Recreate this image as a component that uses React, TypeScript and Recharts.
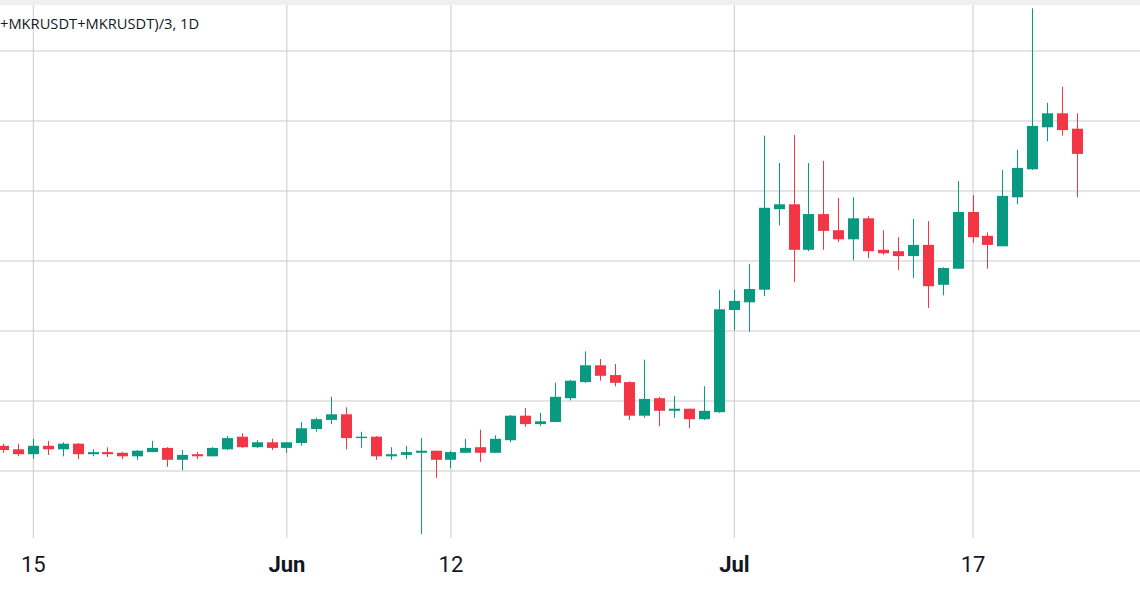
import React from 'react';
import { ComposedChart, Bar, XAxis, YAxis, CartesianGrid } from 'recharts';

// daily candles, 13 May -> 24 Jul (index 0 = 13 May)
const opens = [
  636, 631, 624, 636, 631, 639, 624, 627, 626, 621,
  627, 633, 616, 624, 621, 631, 649, 634, 641, 633,
  640, 660, 673, 681, 647, 649, 621, 623, 626, 629,
  616, 626, 634, 626, 644, 679, 667, 670, 704, 727,
  751, 737, 727, 679, 704, 686, 689, 674, 684, 830,
  841, 859, 974, 981, 916, 967, 944, 931, 961, 916,
  914, 907, 923, 866, 889, 970, 936, 921, 991, 1031,
  1091, 1111, 1089,
];
const highs = [
  639, 639, 646, 643, 641, 640, 631, 634, 627, 630,
  643, 634, 630, 627, 634, 650, 654, 644, 646, 641,
  670, 676, 706, 691, 656, 650, 634, 636, 647, 629,
  629, 646, 659, 651, 680, 690, 683, 726, 730, 771,
  760, 753, 728, 759, 706, 707, 689, 721, 859, 859,
  896, 1079, 1040, 1080, 1040, 1043, 990, 991, 964, 944,
  934, 960, 957, 891, 1014, 994, 941, 1030, 1059, 1261,
  1126, 1149, 1111,
];
const lows = [
  626, 621, 617, 623, 621, 617, 621, 620, 617, 616,
  627, 606, 601, 617, 621, 630, 633, 633, 630, 626,
  636, 656, 667, 631, 633, 616, 616, 617, 510, 590,
  604, 626, 613, 626, 641, 663, 664, 670, 701, 726,
  729, 721, 673, 676, 664, 676, 661, 673, 683, 801,
  799, 850, 951, 870, 914, 916, 927, 901, 904, 909,
  887, 876, 833, 851, 889, 926, 889, 921, 981, 1030,
  1071, 1079, 991,
];
const closes = [
  630, 624, 636, 631, 639, 624, 627, 624, 621, 629,
  633, 616, 623, 621, 633, 647, 634, 641, 633, 641,
  661, 674, 681, 647, 649, 621, 624, 627, 629, 616,
  627, 633, 626, 646, 679, 667, 671, 706, 729, 751,
  736, 726, 679, 703, 686, 689, 674, 686, 831, 843,
  860, 976, 981, 916, 967, 943, 931, 961, 914, 911,
  907, 923, 864, 890, 970, 934, 923, 993, 1033, 1093,
  1111, 1087, 1053,
];

const tickDays = [2, 19, 30, 49, 65];
const tickLabels = ['15', 'Jun', '12', 'Jul', '17'];
const priceTicks = [600, 700, 800, 900, 1000, 1100, 1200];

const X_DOMAIN: [number, number] = [-0.2326, 76.195];
const Y_DOMAIN: [number, number] = [504.29, 1265.71];

const GREEN = '#089981';
const RED = '#F23645';

const data = opens.map((o, i) => ({
  day: i,
  open: o,
  high: highs[i],
  low: lows[i],
  close: closes[i],
  range: [lows[i], highs[i]],
}));

const Candle = (props: any) => {
  const { x, y, width, height, payload } = props;
  if (!payload || height == null) return null;
  const { open, close, high, low } = payload;
  const color = close >= open ? GREEN : RED;
  const top = Math.min(y, y + height);
  const h = Math.abs(height);
  const k = h / (high - low);
  const bodyTop = top + (high - Math.max(open, close)) * k;
  const bodyH = Math.max(1, Math.abs(open - close) * k);
  const cx = Math.floor(x + width / 2) + 0.5;
  return (
    <g>
      <line x1={cx} x2={cx} y1={top} y2={top + h} stroke={color} strokeWidth={1} />
      <rect x={Math.round(x)} y={bodyTop} width={width} height={bodyH} fill={color} />
    </g>
  );
};

const DateTick = (props: any) => {
  const { x, y, payload } = props;
  const label = tickLabels[tickDays.indexOf(payload.value)];
  const bold = label === 'Jun' || label === 'Jul';
  return (
    <text x={x} y={y + 34} textAnchor="middle" fontSize={22} fontWeight={bold ? 700 : 400} fill="#131722" fontFamily="Roboto, sans-serif">
      {label}
    </text>
  );
};

// grid only at the tick values, no frame at the plot edges
const vLines = ({ offset }: any) =>
  tickDays.map((d) => offset.left + ((d - X_DOMAIN[0]) / (X_DOMAIN[1] - X_DOMAIN[0])) * offset.width);
const hLines = ({ offset }: any) =>
  priceTicks.map((v) => offset.top + ((Y_DOMAIN[1] - v) / (Y_DOMAIN[1] - Y_DOMAIN[0])) * offset.height);

export default function App() {
  return (
    <div style={{ position: 'absolute', left: 0, top: 0, width: 1140, height: 591, background: '#fff' }}>
      <div style={{ position: 'absolute', left: 0, top: 0, width: 1140, height: 5, background: '#f0f0f3' }} />
      <ComposedChart width={1140} height={591} data={data} margin={{ top: 5, right: 0, bottom: 0, left: 0 }}>
        <CartesianGrid
          stroke="#cbcbcb"
          strokeWidth={1}
          verticalCoordinatesGenerator={vLines}
          horizontalCoordinatesGenerator={hLines}
        />
        <XAxis
          dataKey="day"
          type="number"
          domain={X_DOMAIN}
          allowDataOverflow
          ticks={tickDays}
          interval={0}
          height={53}
          axisLine={false}
          tickLine={false}
          tickSize={0}
          tickMargin={0}
          tick={<DateTick />}
        />
        <YAxis hide type="number" domain={Y_DOMAIN} allowDataOverflow ticks={priceTicks} />
        <Bar dataKey="range" barSize={11} shape={<Candle />} isAnimationActive={false} />
      </ComposedChart>
      <svg style={{ position: 'absolute', left: 0, top: 0 }} width={320} height={40}>
        <text x={0} y={29} fontSize={14.7} fill="#131722" fontFamily="'Open Sans', sans-serif">
          +MKRUSDT+MKRUSDT)/3, 1D
        </text>
      </svg>
    </div>
  );
}
